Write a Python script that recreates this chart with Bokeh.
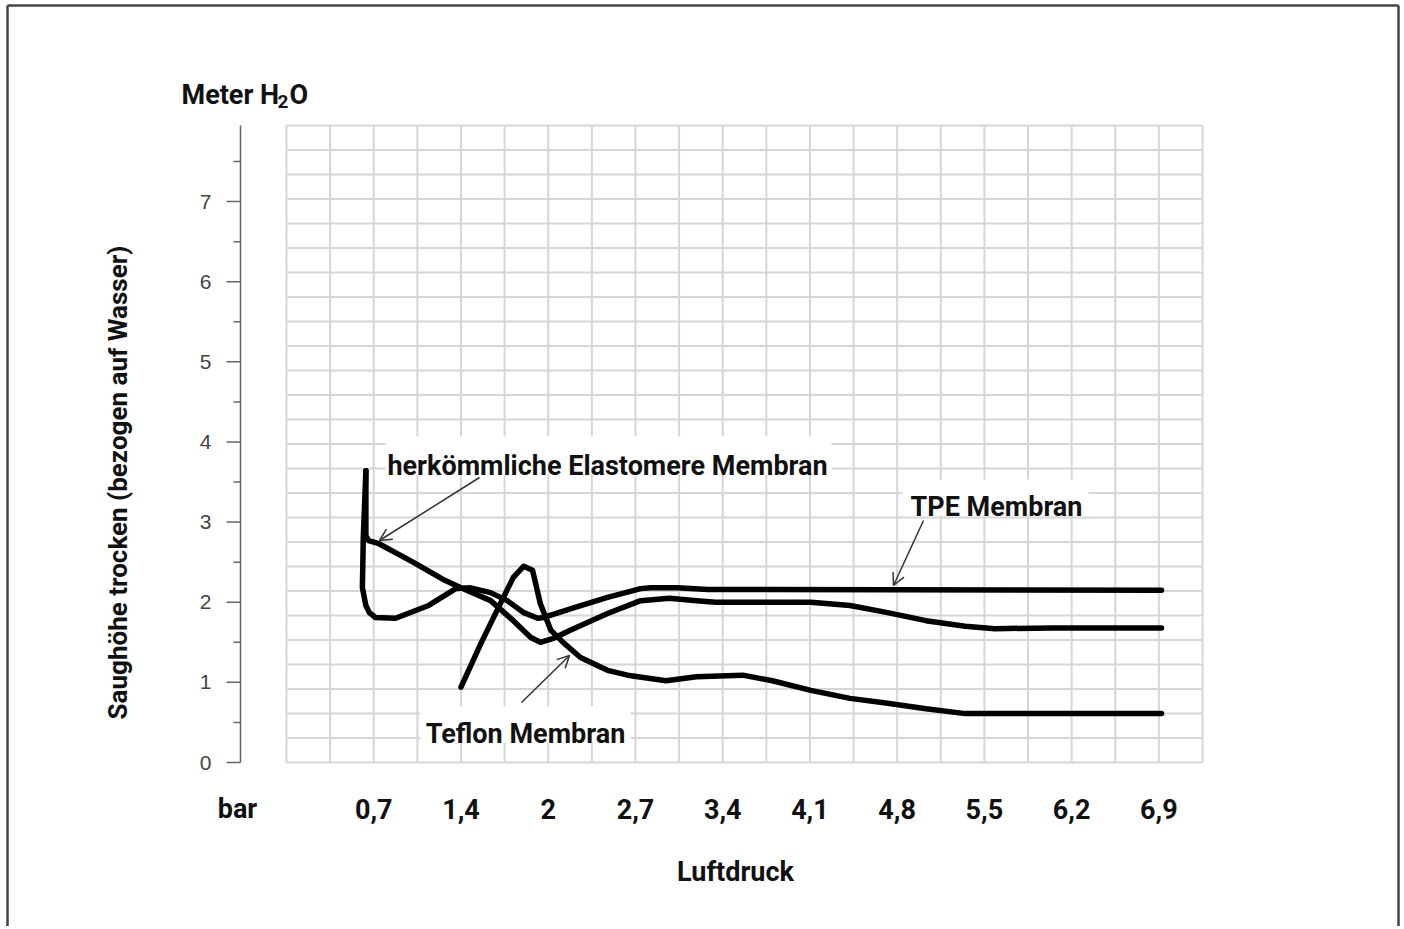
import numpy as np
from bokeh.plotting import figure
from bokeh.models import Range1d, Arrow, OpenHead
from bokeh.core.properties import value
from bokeh.embed import file_html
from bokeh.resources import INLINE

# ---------------- data (x in evenly spaced pressure units, 10 units per labelled step) ----------------
tick_positions = [10, 20, 30, 40, 50, 60, 70, 80, 90, 100]
tick_labels = ["0,7", "1,4", "2", "2,7", "3,4", "4,1", "4,8", "5,5", "6,2", "6,9"]
y_ticks = [0, 1, 2, 3, 4, 5, 6, 7]
y_tick_labels = ["0", "1", "2", "3", "4", "5", "6", "7"]

elast_x = [9.1, 9.1, 9.4, 10.6, 14.5, 18.2, 20.0, 23.4, 26.0, 28.0, 29.1, 30.6, 32.9, 36.8, 40.6,
           43.9, 47.0, 49.2, 60.1, 64.6, 68.9, 73.3, 77.8, 81.2, 87.8, 100.3]
elast_y = [3.64, 2.83, 2.77, 2.73, 2.50, 2.27, 2.18, 2.02, 1.77, 1.56, 1.50, 1.55, 1.67, 1.86, 2.02,
           2.05, 2.02, 2.00, 2.00, 1.96, 1.87, 1.77, 1.70, 1.67, 1.68, 1.68]

tpe_x = [9.1, 8.8, 8.7, 9.1, 9.5, 10.2, 12.5, 16.3, 19.4, 21.1, 23.4, 25.3, 27.2, 28.8, 29.5, 32.9,
         36.8, 40.6, 41.7, 44.8, 48.3, 100.3]
tpe_y = [3.64, 2.80, 2.18, 1.96, 1.87, 1.81, 1.80, 1.96, 2.17, 2.18, 2.12, 2.02, 1.87, 1.80, 1.81, 1.93,
         2.06, 2.17, 2.18, 2.18, 2.16, 2.15]

teflon_x = [20.0, 22.3, 24.5, 26.0, 27.2, 28.2, 29.1, 30.3, 31.8, 33.7, 36.8, 39.1, 43.5, 47.0, 52.3,
            55.7, 60.1, 64.6, 68.9, 73.3, 77.8, 79.9, 100.3]
teflon_y = [0.94, 1.49, 1.98, 2.31, 2.45, 2.40, 1.98, 1.65, 1.49, 1.31, 1.15, 1.09, 1.02, 1.07, 1.09,
            1.02, 0.90, 0.80, 0.74, 0.67, 0.61, 0.61, 0.61]

# ---------------- layout helpers (frame covers the whole canvas) ----------------
W, H = 1400, 926
SX, SY = 8.724, 80.13   # px per unit
ORGX, ORGY = 286.0, 762.0
GRID_X_END = 105.0
GRID_Y_END = 7.95


def dx(px):
    return (px - ORGX) / SX


def dy(py):
    return (ORGY - py) / SY


BOLD = "Roboto"
REG = "Liberation Sans"

p = figure(width=W, height=H, output_backend="svg", toolbar_location=None,
           x_range=Range1d(dx(0), dx(W)), y_range=Range1d(dy(H), dy(0)),
           x_axis_type=None, y_axis_type=None, min_border=0)
p.outline_line_color = None
p.grid.visible = False
p.background_fill_color = "white"
p.border_fill_color = "white"

# grid
vx = np.arange(0, 106, 5).astype(float)
p.segment(x0=vx, x1=vx, y0=np.zeros_like(vx), y1=np.full(len(vx), GRID_Y_END),
          line_color="#d6d6d6", line_width=2)
hy = np.arange(0, 27) * (GRID_Y_END / 26)
p.segment(x0=np.zeros_like(hy), x1=np.full(len(hy), GRID_X_END), y0=hy, y1=hy,
          line_color="#d6d6d6", line_width=2)

# y axis (line, major and minor ticks, labels)
ax_x = dx(240)
p.segment(x0=[ax_x], x1=[ax_x], y0=[0], y1=[GRID_Y_END], line_color="#666666", line_width=1.5)
yt = np.array(y_ticks, dtype=float)
p.segment(x0=np.full(len(yt), dx(226)), x1=np.full(len(yt), ax_x), y0=yt, y1=yt,
          line_color="#666666", line_width=1.5)
ym = yt + 0.5
p.segment(x0=np.full(len(ym), dx(233)), x1=np.full(len(ym), ax_x), y0=ym, y1=ym,
          line_color="#666666", line_width=1.5)
p.text(x=np.full(len(yt), dx(211)), y=yt, text=y_tick_labels, text_font=value(REG),
       text_font_size="21px", text_color="#444444", text_align="right", text_baseline="middle")

# x tick labels
p.text(x=tick_positions, y=np.full(len(tick_positions), dy(808)), text=tick_labels,
       text_font=value(BOLD), text_font_style="bold", text_font_size="27px", text_color="#111111",
       text_align="center", text_baseline="alphabetic")

# curves
for xs, ys in ((elast_x, elast_y), (tpe_x, tpe_y), (teflon_x, teflon_y)):
    p.line(xs, ys, line_color="black", line_width=5.5, line_cap="round", line_join="round")


def lab(text, px, py, size="27px", align="left", baseline="alphabetic", angle=0.0,
        bg=False, pad_x=0, pad_y=0):
    if bg:
        p.rect(x=[dx(px)], y=[dy(py)], width=bg[0] / SX, height=bg[1] / SY,
               fill_color="white", line_color=None)
    p.text(x=[dx(px)], y=[dy(py)], text=[text], text_font=value(BOLD), text_font_style="bold",
           text_font_size=size, text_align=align, text_baseline=baseline, angle=angle,
           text_color="#111111")


# axis titles
lab("bar", 237, 808, align="center")
lab("Luftdruck", 735, 871, align="center")
lab("Meter H", 181, 94)
lab("2", 277, 101, size="19px")
lab("O", 289, 94)
lab("Saughöhe trocken (bezogen auf Wasser)", 117, 482, size="26px", align="center",
    baseline="middle", angle=np.pi / 2)

# arrows
for (xs_, ys_, xe_, ye_) in ((479, 477, 379, 540), (923, 520, 893, 585), (521, 702, 569, 655)):
    p.add_layout(Arrow(end=OpenHead(size=12, line_color="#333333", line_width=1.5),
                       x_start=dx(xs_), y_start=dy(ys_), x_end=dx(xe_), y_end=dy(ye_),
                       line_color="#333333", line_width=1.5))

# in-chart labels with white boxes
p.rect(x=[dx(608)], y=[dy(455)], width=446 / SX, height=38 / SY, fill_color="white", line_color=None)
lab("herkömmliche Elastomere Membran", 607, 465, align="center")
p.rect(x=[dx(995)], y=[dy(497)], width=186 / SX, height=36 / SY, fill_color="white", line_color=None)
lab("TPE Membran", 996, 506, align="center")
p.rect(x=[dx(525)], y=[dy(724)], width=210 / SX, height=36 / SY, fill_color="white", line_color=None)
lab("Teflon Membran", 525, 733, align="center")

# outer border (left, top, right)
p.segment(x0=[dx(7), dx(7), dx(1398)], x1=[dx(7), dx(1398), dx(1398)],
          y0=[dy(960), dy(5), dy(5)], y1=[dy(5), dy(5), dy(960)],
          line_color="#444444", line_width=2.5)

open("out.html", "w").write(file_html(p, INLINE))
